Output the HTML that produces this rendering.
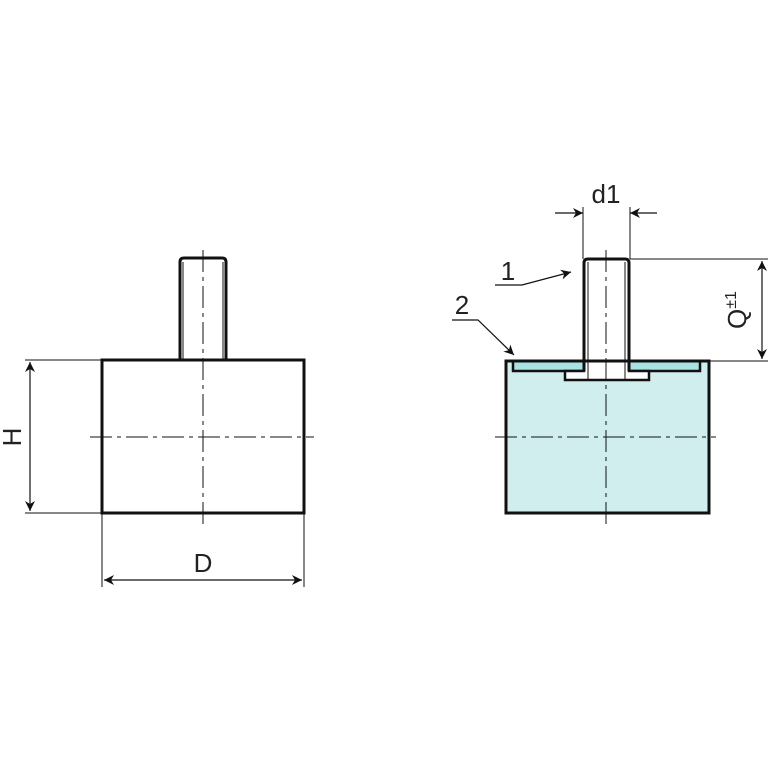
<!DOCTYPE html><html><head><style>body{margin:0;background:#fff}svg{display:block}</style></head><body>
<svg width="768" height="768" viewBox="0 0 768 768" xmlns="http://www.w3.org/2000/svg" font-family="Liberation Sans, sans-serif">
<defs><marker id="a" viewBox="0 0 10 10" refX="10" refY="5" markerWidth="14" markerHeight="10" markerUnits="userSpaceOnUse" orient="auto-start-reverse"><path d="M0,0 L10,5 L0,10 L3,5 z" fill="#111"/></marker></defs>
<!-- LEFT -->
<g stroke="#111" fill="none">
<rect x="102" y="360" width="202" height="153" stroke-width="3"/>
<path d="M180,360 V262 Q180,258 184,258 H222 Q226,258 226,262 V360" stroke-width="3"/>
<path d="M183,262 V360 M223,262 V360" stroke-width="1"/>
<g stroke-width="1" stroke-dasharray="22,5,4,5">
<path d="M203,250 V525"/><path d="M90,437 H314"/></g>
<path d="M25,360 H102 M25,513 H102 M102,513 V587 M304,513 V587" stroke-width="1"/>
<path d="M30,362 V511" stroke-width="1.2" marker-start="url(#a)" marker-end="url(#a)"/>
<path d="M104,580 H302" stroke-width="1.2" marker-start="url(#a)" marker-end="url(#a)"/>
</g>
<text x="203" y="572" font-size="26" text-anchor="middle" fill="#222">D</text>
<text transform="translate(21,437) rotate(-90)" font-size="26" text-anchor="middle" fill="#222">H</text>
<!-- RIGHT -->
<rect x="506" y="361" width="203" height="152" fill="#d0eeee"/>
<rect x="513" y="361" width="71" height="10" fill="#a8e2e2" stroke="#111" stroke-width="2.5"/>
<rect x="629" y="361" width="71" height="10" fill="#a8e2e2" stroke="#111" stroke-width="2.5"/>
<path d="M565,371 V380 H649 V371 H629 V361 H584 V371 Z" fill="#fff" stroke="#111" stroke-width="2.5"/>
<rect x="584" y="259" width="45" height="112" fill="#fff"/>
<g stroke="#111" fill="none">
<path d="M506,361 H709 V513 H506 Z" stroke-width="3"/>
<path d="M584,371 V263 Q584,259 588,259 H625 Q629,259 629,263 V371" stroke-width="3"/>
<path d="M588,262 V380 M625,262 V380" stroke-width="1"/>
<g stroke-width="1" stroke-dasharray="22,5,4,5">
<path d="M606,250 V525"/><path d="M495,437 H716"/></g>
<path d="M583,207 V259 M630,207 V259 M630,259 H770 M709,361 H770" stroke-width="1"/>
<path d="M555,213 H583" stroke-width="1.2" marker-end="url(#a)"/>
<path d="M657,213 H630" stroke-width="1.2" marker-end="url(#a)"/>
<path d="M762,261 V359" stroke-width="1.2" marker-start="url(#a)" marker-end="url(#a)"/>
<path d="M495,285 H522 L571,272" stroke-width="1.2" marker-end="url(#a)"/>
<path d="M452,320 H478 L514,355" stroke-width="1.2" marker-end="url(#a)"/>
</g>
<text x="606" y="203" font-size="26" text-anchor="middle" fill="#222">d1</text>
<text x="508" y="280" font-size="26" text-anchor="middle" fill="#222">1</text>
<text x="462" y="314" font-size="26" text-anchor="middle" fill="#222">2</text>
<text transform="translate(746,310) rotate(-90)" font-size="26" text-anchor="middle" fill="#222">Q<tspan font-size="16" dy="-10">±1</tspan></text>
</svg>
</body></html>
